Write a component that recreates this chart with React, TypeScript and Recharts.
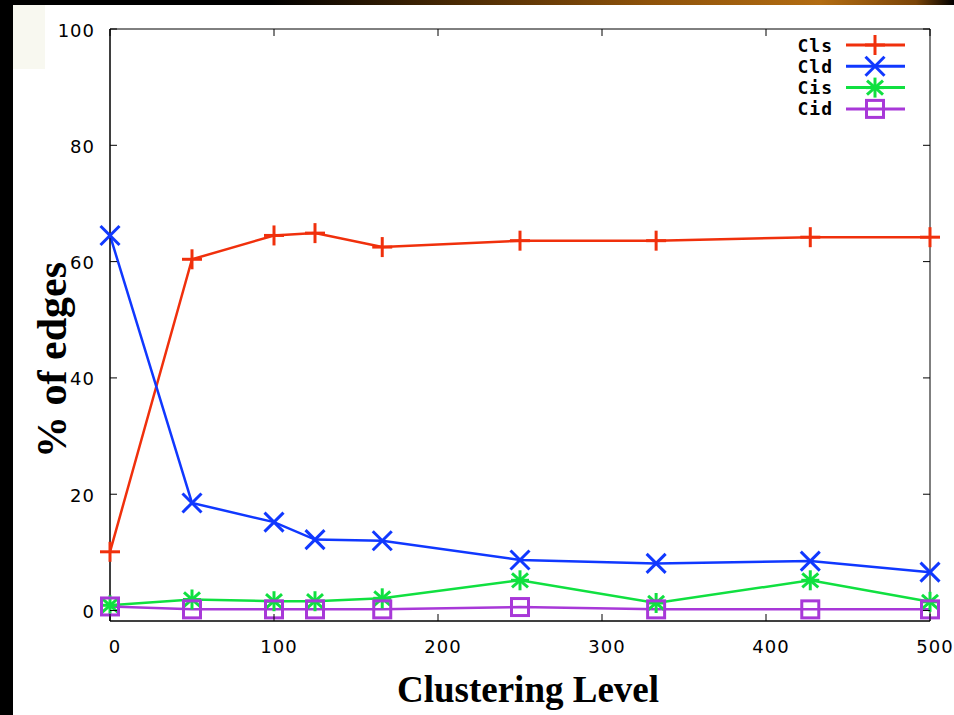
import { LineChart, Line, XAxis, YAxis, ReferenceArea, Legend } from "recharts";

// clustering level (x) and % of edges for each edge class
const clusteringLevels = [0, 50, 100, 125, 166, 250, 333, 427, 500];
const clsValues = [10.1, 60.4, 64.5, 64.9, 62.5, 63.6, 63.6, 64.2, 64.2];
const cldValues = [64.5, 18.5, 15.2, 12.2, 12.0, 8.7, 8.1, 8.5, 6.6];
const cisValues = [0.9, 1.9, 1.6, 1.6, 2.1, 5.2, 1.3, 5.2, 1.5];
const cidValues = [0.7, 0.2, 0.2, 0.2, 0.2, 0.6, 0.2, 0.2, 0.2];

const xTicks = [0, 100, 200, 300, 400, 500];
const yTicks = [0, 20, 40, 60, 80, 100];

const seriesNames = ["Cls", "Cld", "Cis", "Cid"];
const seriesColors = ["#f0300c", "#1038ff", "#10e040", "#a838d8"];
const seriesShapes = ["plus", "cross", "star", "square"];

const chartData = clusteringLevels.map((level, i) => ({
  level,
  Cls: clsValues[i],
  Cld: cldValues[i],
  Cis: cisValues[i],
  Cid: cidValues[i],
}));

const W = 954;
const H = 715;
const PLOT_TOP = 29;
const PLOT_RIGHT = 930;
const TICK = 7;
const tickFont = "'DejaVu Sans', sans-serif";

function Marker({ shape, cx, cy, color }: { shape: string; cx: number; cy: number; color: string }) {
  const s = { stroke: color, strokeWidth: 3, fill: "none" };
  if (shape === "plus") {
    return (
      <g>
        <line x1={cx - 10} x2={cx + 10} y1={cy} y2={cy} {...s} />
        <line x1={cx} x2={cx} y1={cy - 10} y2={cy + 10} {...s} />
      </g>
    );
  }
  if (shape === "cross") {
    return (
      <g>
        <line x1={cx - 9.5} x2={cx + 9.5} y1={cy - 9.5} y2={cy + 9.5} {...s} />
        <line x1={cx - 9.5} x2={cx + 9.5} y1={cy + 9.5} y2={cy - 9.5} {...s} />
      </g>
    );
  }
  if (shape === "star") {
    return (
      <g>
        <line x1={cx - 9} x2={cx + 9} y1={cy} y2={cy} {...s} />
        <line x1={cx} x2={cx} y1={cy - 10} y2={cy + 10} {...s} />
        <line x1={cx - 8} x2={cx + 8} y1={cy - 7} y2={cy + 7} {...s} />
        <line x1={cx - 8} x2={cx + 8} y1={cy + 7} y2={cy - 7} {...s} />
      </g>
    );
  }
  return <rect x={cx - 8.5} y={cy - 8.5} width={17} height={17} {...s} />;
}

function XTick(props: any) {
  const { x, y, payload } = props;
  return (
    <g>
      <line x1={x} x2={x} y1={y} y2={y - TICK} stroke="#000" />
      <line x1={x} x2={x} y1={PLOT_TOP} y2={PLOT_TOP + TICK} stroke="#000" />
      <text x={x + 5} y={y + 25} textAnchor="middle" dominantBaseline="central" fontSize={18} letterSpacing={1} fontFamily={tickFont} fill="#000">
        {payload.value}
      </text>
    </g>
  );
}

function YTick(props: any) {
  const { x, y, payload } = props;
  return (
    <g>
      <line x1={x} x2={x + TICK} y1={y} y2={y} stroke="#000" />
      <line x1={PLOT_RIGHT - TICK} x2={PLOT_RIGHT} y1={y} y2={y} stroke="#000" />
      <text x={x - 15} y={y + 1} textAnchor="end" dominantBaseline="central" fontSize={18} letterSpacing={1} fontFamily={tickFont} fill="#000">
        {payload.value}
      </text>
    </g>
  );
}

// legend keeps the series order of the original key (Cls first)
function LegendBox() {
  return (
    <svg width={160} height={100}>
      {seriesNames.map((name, i) => {
        const cy = 11 + i * 21.3;
        return (
          <g key={name}>
            <text x={73} y={cy} textAnchor="end" dominantBaseline="central" fontSize={18} fontWeight="bold" letterSpacing={1} fontFamily="'DejaVu Sans Mono', monospace" fill="#000">
              {name}
            </text>
            <line x1={86} x2={145} y1={cy} y2={cy} stroke={seriesColors[i]} strokeWidth={3} />
            <Marker shape={seriesShapes[i]} cx={115} cy={cy} color={seriesColors[i]} />
          </g>
        );
      })}
    </svg>
  );
}

function YLabel(props: any) {
  const vb = props.viewBox;
  const x = vb.x + 66;
  const y = vb.y + vb.height / 2 + 35;
  return (
    <text x={x} y={y} transform={`rotate(-90, ${x}, ${y})`} textAnchor="middle" fontSize={42} fontWeight="bold" fontFamily="'Liberation Serif', serif" fill="#000">
      % of edges
    </text>
  );
}

function XLabel(props: any) {
  const vb = props.viewBox;
  return (
    <text x={vb.x + vb.width / 2 + 8} y={vb.y + 81} textAnchor="middle" fontSize={37} fontWeight="bold" fontFamily="'Liberation Serif', serif" fill="#000">
      Clustering Level
    </text>
  );
}

export default function App() {
  return (
    <div style={{ position: "absolute", left: 0, top: 0, width: W, height: H, background: "#000", overflow: "hidden" }}>
      <div
        style={{
          position: "absolute",
          left: 0,
          top: 0,
          width: W,
          height: 5,
          background: "linear-gradient(90deg, #000 0%, #000 28%, #4a2a04 48%, #8e520a 68%, #b26c12 86%, #7a4408 96%, #000 100%)",
        }}
      />
      <div style={{ position: "absolute", left: 13, top: 5, right: 0, bottom: 0, background: "#fff" }} />
      <div style={{ position: "absolute", left: 13, top: 5, width: 32, height: 64, background: "#f8f8f0" }} />
      <div style={{ position: "absolute", left: 0, top: 0 }}>
        <LineChart width={W} height={H} data={chartData} margin={{ top: PLOT_TOP, right: W - PLOT_RIGHT, left: 0, bottom: 0 }}>
          <XAxis
            dataKey="level"
            type="number"
            domain={[0, 500]}
            ticks={xTicks}
            interval={0}
            height={94}
            tickSize={0}
            tickMargin={0}
            axisLine={{ stroke: "#000" }}
            tick={(p: any) => <XTick {...p} />}
            label={(p: any) => <XLabel {...p} />}
          />
          <YAxis
            type="number"
            domain={[-1.8, 100]}
            allowDataOverflow
            ticks={yTicks}
            interval={0}
            width={110}
            tickSize={0}
            tickMargin={0}
            axisLine={{ stroke: "#000" }}
            tick={(p: any) => <YTick {...p} />}
            label={(p: any) => <YLabel {...p} />}
          />
          <ReferenceArea x1={0} x2={500} y1={-1.8} y2={100} fill="none" fillOpacity={0} stroke="#000" strokeWidth={1} ifOverflow="visible" />
          <Legend
            layout="vertical"
            align="center"
            verticalAlign="middle"
            content={() => <LegendBox />}
            wrapperStyle={{ left: 760, top: 34, width: 160, height: 100 }}
          />
          {seriesNames.map((name, i) => (
            <Line
              key={name}
              dataKey={name}
              name={name}
              type="linear"
              stroke={seriesColors[i]}
              strokeWidth={2.5}
              isAnimationActive={false}
              activeDot={false}
              dot={(p: any) => (
                <Marker key={`${name}-${p.index}`} shape={seriesShapes[i]} cx={p.cx} cy={p.cy} color={seriesColors[i]} />
              )}
            />
          ))}
        </LineChart>
      </div>
    </div>
  );
}
